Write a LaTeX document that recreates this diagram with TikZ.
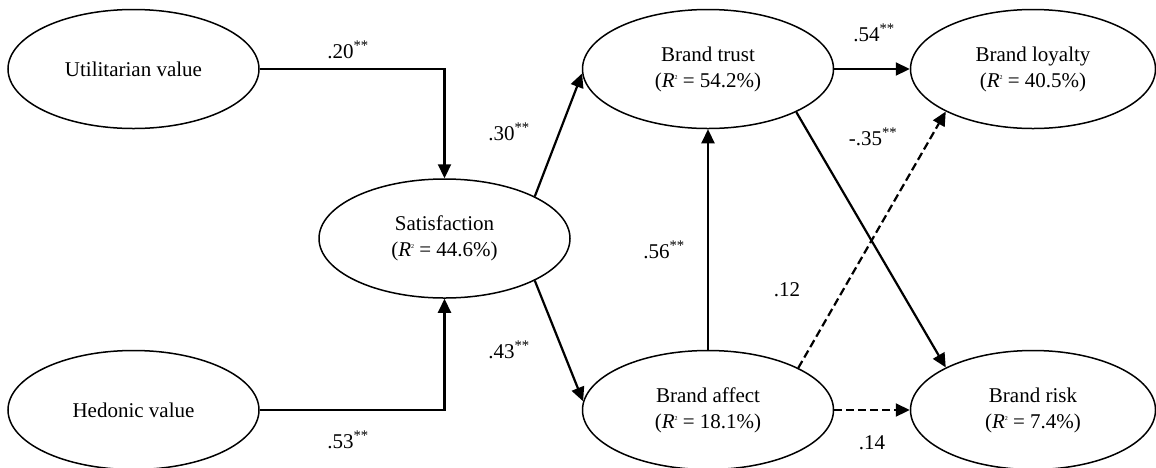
\documentclass[tikz,border=0pt]{standalone}
\usepackage{fontspec}
\setmainfont{Liberation Serif}
\usetikzlibrary{shapes.geometric,arrows.meta}

% tiny squared sign used in the R-squared lines
\newcommand{\rsq}[1]{(\textit{R}{\fontsize{6}{6}\selectfont\raisebox{8pt}{2}} = #1)}
\newcommand{\sig}{\textsuperscript{**}}

\begin{document}
\begin{tikzpicture}[x=1pt,y=-1pt,
  construct/.style={ellipse, draw, line width=1.5pt, inner sep=0pt,
    minimum width=251pt, minimum height=119pt, align=center,
    font=\fontsize{21}{26}\selectfont},
  narrow/.style={construct, minimum width=245pt},
  path/.style={line width=2.2pt, -{Triangle[length=14pt,width=13pt]}},
  weak/.style={path, dash pattern=on 8pt off 4pt},
  coef/.style={inner sep=0pt, font=\fontsize{21}{26}\selectfont}]
\useasboundingbox (0,0) rectangle (1156,467);

% latent constructs
\node[construct] (util) at (133.5,69) {Utilitarian value};
\node[construct] (hed) at (133.5,410) {Hedonic value};
\node[construct] (sat) at (444.5,238.5) {Satisfaction\\\rsq{44.6\%}};
\node[construct] (trust) at (708,69) {Brand trust\\\rsq{54.2\%}};
\node[construct] (affect) at (708,410) {Brand affect\\\rsq{18.1\%}};
\node[narrow] (loyal) at (1033,69) {Brand loyalty\\\rsq{40.5\%}};
\node[narrow] (risk) at (1033,410) {Brand risk\\\rsq{7.4\%}};

% structural paths
\draw[path] (util.east) -| (sat.north);
\draw[path] (hed.east) -| (sat.south);
\draw[path] (sat.25.7) -- (trust.182.7);
\draw[path] (sat.-25.7) -- (affect.176.8);
\draw[path] (affect.north) -- (trust.south);
\draw[path] (trust.east) -- (loyal.west);
\draw[path] (trust.-26) -- (risk.154);
\draw[weak] (affect.25.9) -- (loyal.206.3);
\draw[weak] (affect.east) -- (risk.west);

% path coefficients
\node[coef] (c1) at (348,50) {.20\sig};
\node[coef] (c2) at (348,440) {.53\sig};
\node[coef] (c3) at (509,132) {.30\sig};
\node[coef] (c4) at (509,350) {.43\sig};
\node[coef] (c5) at (874,33) {.54\sig};
\node[coef] (c6) at (873,137) {-.35\sig};
\node[coef] (c7) at (664,250) {.56\sig};
\node[coef] (c8) at (787,290) {.12};
\node[coef] (c9) at (872,443) {.14};
\end{tikzpicture}
\end{document}
